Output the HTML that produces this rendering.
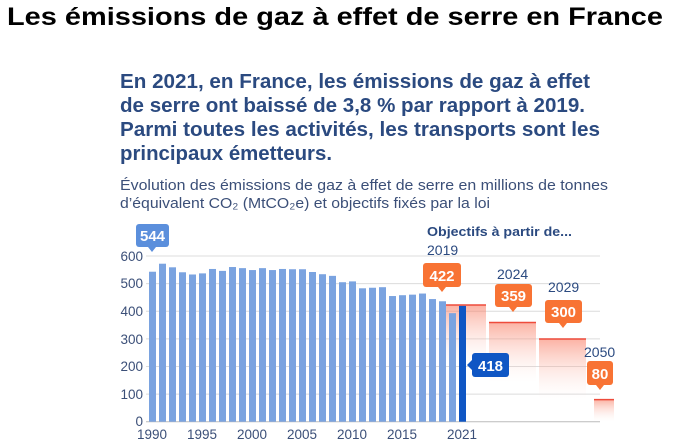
<!DOCTYPE html>
<html><head><meta charset="utf-8"><style>
html,body{margin:0;padding:0;background:#fff;}
svg{display:block;font-family:"Liberation Sans",sans-serif;}
</style></head><body>
<svg width="678" height="442" viewBox="0 0 678 442" xmlns="http://www.w3.org/2000/svg">
<defs>
<linearGradient id="g" x1="0" y1="0" x2="0" y2="1">
<stop offset="0" stop-color="#f8745a" stop-opacity="0.55"/>
<stop offset="1" stop-color="#fde0d8" stop-opacity="0"/>
</linearGradient>
</defs>
<text x="7" y="25" font-size="25" font-weight="bold" fill="#000" textLength="656" lengthAdjust="spacingAndGlyphs">Les émissions de gaz à effet de serre en France</text>
<g font-size="20" font-weight="bold" fill="#2b4a80">
<text x="120" y="88" textLength="470" lengthAdjust="spacingAndGlyphs">En 2021, en France, les émissions de gaz à effet</text>
<text x="120" y="112" textLength="465" lengthAdjust="spacingAndGlyphs">de serre ont baissé de 3,8 % par rapport à 2019.</text>
<text x="120" y="136" textLength="480" lengthAdjust="spacingAndGlyphs">Parmi toutes les activités, les transports sont les</text>
<text x="120" y="160" textLength="212" lengthAdjust="spacingAndGlyphs">principaux émetteurs.</text>
</g>
<g font-size="15" fill="#3b4f78">
<text x="120" y="190" textLength="488" lengthAdjust="spacingAndGlyphs">Évolution des émissions de gaz à effet de serre en millions de tonnes</text>
<text x="120" y="208" textLength="370" lengthAdjust="spacingAndGlyphs">d’équivalent CO₂ (MtCO₂e) et objectifs fixés par la loi</text>
</g>
<g stroke="#dcdcdc" stroke-width="1">
<line x1="146" x2="600" y1="256" y2="256"/>
<line x1="146" x2="600" y1="283.6" y2="283.6"/>
<line x1="146" x2="600" y1="311.2" y2="311.2"/>
<line x1="146" x2="600" y1="338.9" y2="338.9"/>
<line x1="146" x2="600" y1="366.5" y2="366.5"/>
<line x1="146" x2="600" y1="394.1" y2="394.1"/>
</g>
<line x1="146" x2="600" y1="421.7" y2="421.7" stroke="#bbb"/>
<g font-size="13.5" fill="#3b4f78" text-anchor="end">
<text x="143" y="261">600</text><text x="143" y="288">500</text><text x="143" y="316">400</text>
<text x="143" y="344">300</text><text x="143" y="371">200</text><text x="143" y="399">100</text><text x="143" y="426">0</text>
</g>
<g font-size="13.5" fill="#3b4f78" text-anchor="middle">
<text x="152" y="439">1990</text><text x="202" y="439">1995</text><text x="252" y="439">2000</text>
<text x="302" y="439">2005</text><text x="352" y="439">2010</text><text x="402" y="439">2015</text><text x="462" y="439">2021</text>
</g>
<rect x="439" y="305" width="47" height="60" fill="url(#g)"/>
<line x1="439" x2="486" y1="305" y2="305" stroke="#ee4b3b" stroke-width="1.5"/>
<rect x="489" y="322.5" width="47" height="60" fill="url(#g)"/>
<line x1="489" x2="536" y1="322.5" y2="322.5" stroke="#ee4b3b" stroke-width="1.5"/>
<rect x="539" y="339" width="47" height="60" fill="url(#g)"/>
<line x1="539" x2="586" y1="339" y2="339" stroke="#ee4b3b" stroke-width="1.5"/>
<rect x="594" y="399.6" width="20" height="22" fill="url(#g)"/>
<line x1="594" x2="614" y1="399.6" y2="399.6" stroke="#ee4b3b" stroke-width="1.5"/>
<g fill="#7aa3e0" id="bars"></g>
<rect x="459" y="305.9" width="7" height="115.8" fill="#0f56c4"/>
<g font-weight="bold" font-size="15" text-anchor="middle" fill="#fff">
<rect x="136" y="224" width="33" height="23" rx="3" fill="#5b8fdc"/><polygon points="148,247 156,247 152,252" fill="#5b8fdc"/><text x="152.5" y="241">544</text>
<rect x="423" y="263" width="38" height="24" rx="3" fill="#f87334"/><polygon points="438,287 446,287 442,292" fill="#f87334"/><text x="442" y="281">422</text>
<rect x="495" y="284" width="37" height="23" rx="3" fill="#f87334"/><polygon points="509,307 517,307 513,312" fill="#f87334"/><text x="513.5" y="301">359</text>
<rect x="545" y="300" width="37" height="23" rx="3" fill="#f87334"/><polygon points="559,323 567,323 563,328" fill="#f87334"/><text x="563.5" y="317">300</text>
<rect x="587" y="361" width="26" height="24" rx="3" fill="#f87334"/><polygon points="596,385 604,385 600,390" fill="#f87334"/><text x="600" y="379">80</text>
<rect x="472" y="353" width="37" height="24" rx="3" fill="#0f56c4"/><polygon points="472,360 472,370 467,365" fill="#0f56c4"/><text x="490.5" y="371">418</text>
</g>
<g font-size="14" fill="#2b4a80">
<text x="427" y="236" font-weight="bold" font-size="13" textLength="145" lengthAdjust="spacingAndGlyphs">Objectifs à partir de...</text>
<text x="427" y="255">2019</text>
<text x="497" y="279">2024</text>
<text x="548" y="292">2029</text>
<text x="584" y="357">2050</text>
</g>
</svg>
<script>
var v=[543,572,559,541,533,537,553,546,560,556,549,556,549,553,552,552,542,534,528,505,508,483,485,487,455,458,460,464,444,436,393];
var g=document.getElementById('bars'),s='';
for(var i=0;i<v.length;i++){var h=v[i]*0.2762;s+='<rect x="'+(149+i*10)+'" y="'+(421.7-h)+'" width="7" height="'+h+'"/>';}
g.innerHTML=s;
</script>
</body></html>
